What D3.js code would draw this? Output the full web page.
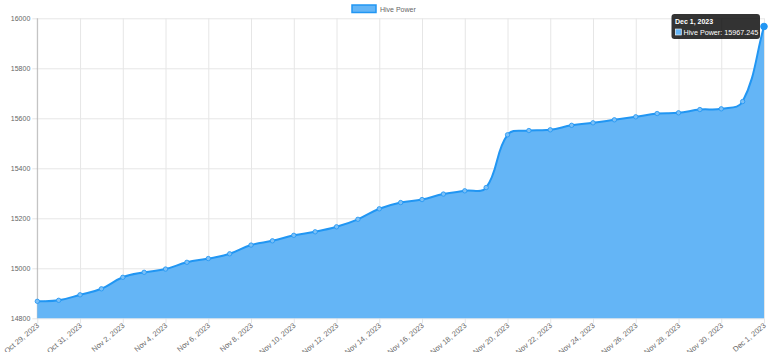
<!DOCTYPE html>
<html>
<head>
<meta charset="utf-8">
<script src="https://cdn.jsdelivr.net/npm/d3@7"></script>
<style>
  html, body { margin: 0; padding: 0; background: #fff; }
  svg { display: block; font-family: "Liberation Sans", Arial, sans-serif; }
</style>
</head>
<body>
<svg id="chart" width="768" height="352"></svg>
<script>
const seriesName = "Hive Power";
const dates = [
  "Oct 29, 2023","Oct 30, 2023","Oct 31, 2023","Nov 1, 2023","Nov 2, 2023","Nov 3, 2023",
  "Nov 4, 2023","Nov 5, 2023","Nov 6, 2023","Nov 7, 2023","Nov 8, 2023","Nov 9, 2023",
  "Nov 10, 2023","Nov 11, 2023","Nov 12, 2023","Nov 13, 2023","Nov 14, 2023","Nov 15, 2023",
  "Nov 16, 2023","Nov 17, 2023","Nov 18, 2023","Nov 19, 2023","Nov 20, 2023","Nov 21, 2023",
  "Nov 22, 2023","Nov 23, 2023","Nov 24, 2023","Nov 25, 2023","Nov 26, 2023","Nov 27, 2023",
  "Nov 28, 2023","Nov 29, 2023","Nov 30, 2023","Dec 1, 2023","Dec 1, 2023"
];
const hivePower = [
  14868, 14872, 14894, 14918, 14964, 14984, 14997, 15024, 15039, 15058, 15093, 15110,
  15132, 15146, 15166, 15196, 15238, 15263, 15275, 15297, 15310, 15323, 15534, 15551,
  15554, 15572, 15582, 15594, 15606, 15619, 15622, 15635, 15638, 15667, 15967.245
];
const yTicks = [14800, 15000, 15200, 15400, 15600, 15800, 16000];
const tooltipIndex = 34;

(function () {
const svg = d3.select("#chart");
const pLeft = 37.3, pRight = 764, pTop = 18.3, pBottom = 318.3;
const idx = d3.range(hivePower.length);
const x = d3.scalePoint().domain(idx).range([pLeft, pRight]);
const y = d3.scaleLinear().domain([14800, 16000]).range([pBottom, pTop]);

const gridColor = "#e6e6e6";
const textColor = "#666";
const fontSize = 7;

// horizontal grid
const yAxis = d3.axisLeft(y).tickValues(yTicks).tickSize(5).tickPadding(2).tickFormat(d3.format("d"));
const gy = svg.append("g").attr("transform", `translate(${pLeft},0)`).call(yAxis);
gy.select(".domain").remove();
gy.selectAll(".tick line").attr("stroke", gridColor);
gy.selectAll(".tick text").attr("fill", textColor).style("font-size", fontSize + "px");
gy.selectAll(".tick").append("line").attr("x1", 0).attr("x2", pRight - pLeft).attr("stroke", gridColor);

// vertical grid at shown ticks (every 2nd)
const shown = idx.filter(i => i % 2 === 0);
const xAxis = d3.axisBottom(x).tickValues(shown).tickSize(5).tickFormat(i => dates[i]);
const gx = svg.append("g").attr("transform", `translate(0,${pBottom})`).call(xAxis);
gx.select(".domain").remove();
gx.selectAll(".tick line").attr("stroke", gridColor);
gx.selectAll(".tick").append("line").attr("y1", 0).attr("y2", pTop - pBottom).attr("stroke", gridColor);
gx.selectAll(".tick text")
  .attr("fill", textColor).style("font-size", "7.5px")
  .attr("text-anchor", "end")
  .attr("y", 0).attr("dy", 0)
  .attr("transform", "translate(2,8) rotate(-40)");

// left axis line
svg.append("line").attr("x1", pLeft).attr("x2", pLeft).attr("y1", pTop).attr("y2", pBottom)
  .attr("stroke", "rgba(0,0,0,0.22)");

// Chart.js style spline (tension 0.4)
const pts = hivePower.map((v, i) => [x(i), y(v)]);
function controlPoints(p, t) {
  const cps = [];
  for (let i = 0; i < p.length; i++) {
    const prev = p[Math.max(0, i - 1)], cur = p[i], next = p[Math.min(p.length - 1, i + 1)];
    const d01 = Math.hypot(cur[0] - prev[0], cur[1] - prev[1]);
    const d12 = Math.hypot(next[0] - cur[0], next[1] - cur[1]);
    let s01 = d01 / (d01 + d12), s12 = d12 / (d01 + d12);
    s01 = isNaN(s01) ? 0 : s01; s12 = isNaN(s12) ? 0 : s12;
    const fa = t * s01, fb = t * s12;
    const pc = [cur[0] - fa * (next[0] - prev[0]), cur[1] - fa * (next[1] - prev[1])];
    const nc = [cur[0] + fb * (next[0] - prev[0]), cur[1] + fb * (next[1] - prev[1])];
    const clamp = c => [Math.max(pLeft, Math.min(pRight, c[0])), Math.max(pTop, Math.min(pBottom, c[1]))];
    cps.push({prev: clamp(pc), next: clamp(nc)});
  }
  return cps;
}
const cps = controlPoints(pts, 0.4);
function buildLine(path) {
  path.moveTo(pts[0][0], pts[0][1]);
  for (let i = 1; i < pts.length; i++) {
    const a = cps[i - 1].next, b = cps[i].prev;
    path.bezierCurveTo(a[0], a[1], b[0], b[1], pts[i][0], pts[i][1]);
  }
  return path;
}
const areaPath = buildLine(d3.path());
areaPath.lineTo(pts[pts.length - 1][0], y(14800));
areaPath.lineTo(pts[0][0], y(14800));
areaPath.closePath();

svg.append("path").attr("d", areaPath.toString()).attr("fill", "#64b5f6");
svg.append("path").attr("d", buildLine(d3.path()).toString())
  .attr("fill", "none").attr("stroke", "#2196f3").attr("stroke-width", 2);

svg.append("g").selectAll("circle").data(idx.filter(i => i !== tooltipIndex)).join("circle")
  .attr("cx", i => x(i)).attr("cy", i => y(hivePower[i])).attr("r", 2.2)
  .attr("fill", "#7cc0f7").attr("stroke", "#2196f3").attr("stroke-width", 0.8);

// legend
svg.append("rect").attr("x", 352).attr("y", 5).attr("width", 24).attr("height", 7.5)
  .attr("fill", "#64b5f6").attr("stroke", "#2196f3").attr("stroke-width", 1.5);
svg.append("text").attr("x", 380).attr("y", 11.5).attr("fill", textColor)
  .style("font-size", fontSize + "px").text(seriesName);

// tooltip
const tt = svg.append("g");
tt.append("rect").attr("x", 671.5).attr("y", 14).attr("width", 88.5).attr("height", 25).attr("rx", 3)
  .attr("fill", "rgba(0,0,0,0.8)");
tt.append("text").attr("x", 675).attr("y", 23.5).attr("fill", "#fff")
  .style("font-size", "7px").style("font-weight", "bold").text(dates[tooltipIndex]);
tt.append("rect").attr("x", 675.3).attr("y", 29).attr("width", 6).attr("height", 6)
  .attr("fill", "#64b5f6").attr("stroke", "#fff").attr("stroke-width", 0.6);
tt.append("text").attr("x", 683.5).attr("y", 35).attr("fill", "#fff")
  .style("font-size", "7.2px").text(`${seriesName}: ${hivePower[tooltipIndex]}`);

svg.append("circle").attr("cx", x(tooltipIndex)).attr("cy", y(hivePower[tooltipIndex])).attr("r", 3.3)
  .attr("fill", "#2196f3").attr("stroke", "#2196f3").attr("stroke-width", 1);
})();
</script>
</body>
</html>
